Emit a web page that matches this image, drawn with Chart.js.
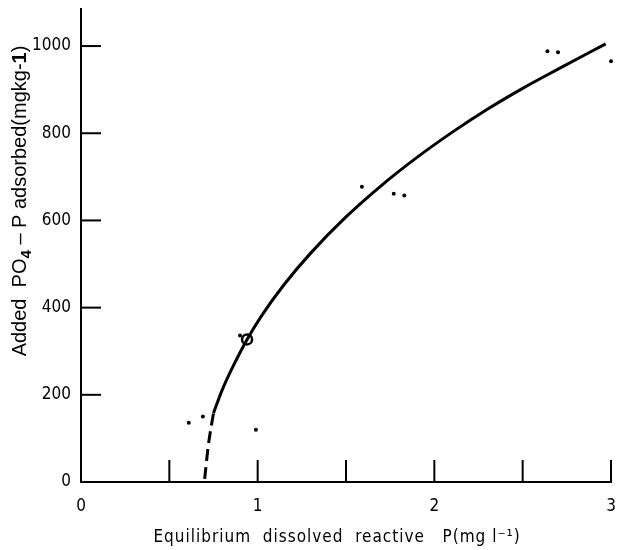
<!DOCTYPE html>
<html>
<head>
<meta charset="utf-8">
<script src="https://cdn.jsdelivr.net/npm/chart.js@4"></script>
<style>
  body { margin: 0; background: #fff; }
  #wrap { width: 619px; height: 550px; }
</style>
</head>
<body>
<div id="wrap"><canvas id="isoChart"></canvas></div>
<script>
// scattered measurements
const dotX = [0.61, 0.69, 0.99, 0.90, 1.59, 1.77, 1.83, 2.64, 2.70, 3.00]
const dotY = [136, 150, 120, 336, 677, 661, 657, 988, 986, 965]
// the ringed point on the curve
const ringX = [0.94]
const ringY = [327]
// dashed foot of the fitted curve
const dashX = [0.70, 0.72, 0.75]
const dashY = [7, 82, 158]
// fitted curve
const curveX = [0.75, 0.80, 0.87, 0.94, 1.02, 1.15, 1.30, 1.50, 1.70, 1.90, 2.10, 2.30, 2.50, 2.70, 2.97]
const curveY = [158, 212, 273, 327, 380, 453, 525, 608, 680, 744, 802, 855, 903, 947, 1005]

const xTitle = "Equilibrium  dissolved  reactive   P(mg l\u207B\u00B9)"
// y title pieces: text, bold?, size, shift
const yTitleParts = [
    ["Added  PO", false, 20, 0],
    ["4", true, 15, 5],
    [" \u2013 P adsorbed(mgkg-", false, 20, 0],
    ["1", true, 20, 0],
    [")", false, 20, 0]
]

const tickFont = "'DejaVu Sans Condensed', 'DejaVu Sans', sans-serif"
const yFont = "'Liberation Sans', Arial, sans-serif"

function pts(xs, ys) {
    return xs.map(function (x, i) { return { x: x, y: ys[i] } })
}

// ticks point inward in the original, so draw them from the scale ticks
const insideTicks = {
    id: 'insideTicks',
    afterDraw(chart) {
        const ctx = chart.ctx
        const x = chart.scales.x
        const y = chart.scales.y
        ctx.save()
        ctx.strokeStyle = '#000'
        ctx.lineWidth = 2
        x.ticks.forEach(function (t) {
            if (t.value === 0) return
            const px = x.getPixelForValue(t.value)
            ctx.beginPath()
            ctx.moveTo(px, y.bottom)
            ctx.lineTo(px, y.bottom - 22)
            ctx.stroke()
        })
        y.ticks.forEach(function (t) {
            if (t.value === 0) return
            const py = y.getPixelForValue(t.value)
            ctx.beginPath()
            ctx.moveTo(x.left, py)
            ctx.lineTo(x.left + 20, py)
            ctx.stroke()
        })
        // x title
        ctx.fillStyle = '#000'
        ctx.font = '17px ' + tickFont
        ctx.letterSpacing = '1px'
        ctx.textAlign = 'center'
        ctx.textBaseline = 'middle'
        ctx.fillText(xTitle, 337, 538)
        ctx.letterSpacing = '0px'
        // y title, drawn piece by piece for the subscript
        ctx.translate(19, 201)
        ctx.rotate(-Math.PI / 2)
        ctx.textAlign = 'left'
        ctx.textBaseline = 'alphabetic'
        let total = 0
        yTitleParts.forEach(function (p) {
            ctx.font = (p[1] ? 'bold ' : '') + p[2] + 'px ' + yFont
            total += ctx.measureText(p[0]).width
        })
        let cx = -total / 2
        yTitleParts.forEach(function (p) {
            ctx.font = (p[1] ? 'bold ' : '') + p[2] + 'px ' + yFont
            ctx.fillText(p[0], cx, 7 + p[3])
            cx += ctx.measureText(p[0]).width
        })
        ctx.restore()
    }
}

const ctx = document.getElementById('isoChart').getContext('2d')
const myChart = new Chart(ctx, {
    type: 'scatter',
    data: {
        datasets: [{
            label: 'measured',
            data: pts(dotX, dotY),
            pointRadius: 2,
            pointBackgroundColor: '#000',
            pointBorderWidth: 0,
            showLine: false,
            clip: false
        }, {
            label: 'curve',
            data: pts(curveX, curveY),
            showLine: true,
            borderColor: '#000',
            borderWidth: 3,
            pointRadius: 0,
            cubicInterpolationMode: 'monotone'
        }, {
            label: 'dashed',
            data: pts(dashX, dashY),
            showLine: true,
            borderColor: '#000',
            borderWidth: 3,
            borderDash: [12, 6],
            pointRadius: 0,
            cubicInterpolationMode: 'monotone'
        }, {
            label: 'ring',
            data: pts(ringX, ringY),
            pointRadius: 5,
            pointBorderWidth: 2.5,
            pointBorderColor: '#000',
            pointBackgroundColor: '#fff',
            showLine: false
        }]
    },
    options: {
        responsive: true,
        maintainAspectRatio: false,
        animation: false,
        layout: { padding: { top: 9, right: 8, left: 0, bottom: 0 } },
        plugins: {
            legend: { display: false },
            tooltip: { enabled: false }
        },
        scales: {
            x: {
                type: 'linear',
                min: 0,
                max: 3,
                grid: { display: false, drawTicks: false },
                border: { display: true, color: '#000', width: 2 },
                ticks: {
                    stepSize: 0.5,
                    padding: 14,
                    color: '#000',
                    maxRotation: 0,
                    autoSkip: false,
                    font: { size: 17, family: tickFont },
                    callback: function (v) { return Number.isInteger(v) ? String(v) : '' }
                },
                afterFit: function (s) {
                    s.height = 68
                    s.paddingLeft = 0
                    s.paddingRight = 0
                }
            },
            y: {
                min: 0,
                max: 1085,
                grid: { display: false, drawTicks: false },
                border: { display: true, color: '#000', width: 2 },
                ticks: {
                    stepSize: 200,
                    includeBounds: false,
                    padding: 10,
                    color: '#000',
                    font: { size: 17, family: tickFont },
                    callback: function (v) { return String(v) }
                },
                afterFit: function (s) {
                    s.width = 81
                    s.paddingTop = 0
                    s.paddingBottom = 0
                }
            }
        }
    },
    plugins: [insideTicks]
})
</script>
</body>
</html>
